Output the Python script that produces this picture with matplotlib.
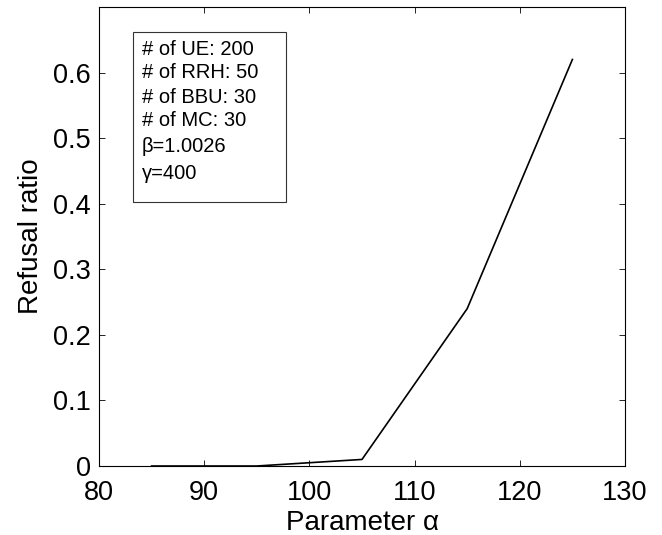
import matplotlib
matplotlib.use("Agg")
import matplotlib.pyplot as plt
from matplotlib.patches import Rectangle

# --- data -------------------------------------------------------------
alpha = [85, 95, 105, 115, 125]
refusal = [0.0, 0.0, 0.01, 0.24, 0.62]

xticks = [80, 90, 100, 110, 120, 130]
yticks = [0, 0.1, 0.2, 0.3, 0.4, 0.5, 0.6]

info_lines = ["# of UE: 200", "# of RRH: 50", "# of BBU: 30",
              "# of MC: 30", "\u03b2=1.0026", "\u03b3=400"]

plt.rcParams["font.family"] = ["Liberation Sans", "DejaVu Sans"]

fig = plt.figure(figsize=(6.62, 5.35), dpi=100)
ax = fig.add_axes([99 / 662, 1 - 466 / 535, 526 / 662, 459 / 535])

ax.plot(alpha, refusal, color="black", linewidth=1.2)

ax.set_xlim(80, 130)
ax.set_ylim(0, 0.7)
ax.set_xticks(xticks)
ax.set_yticks(yticks)
ax.set_yticklabels(["0"] + [f"{v:.1f}" for v in yticks[1:]])
ax.tick_params(direction="in", top=True, right=True, length=4.5,
               width=0.6, labelsize=19.5)
ax.tick_params(axis="x", pad=10)
ax.tick_params(axis="y", pad=6)
for s in ax.spines.values():
    s.set_linewidth(0.8)

ax.set_xlabel("Parameter \u03b1", fontsize=20, labelpad=3)
ax.set_ylabel("Refusal ratio", fontsize=20, labelpad=6)

# info box (axes coordinates)
x0, x1 = (132.5 - 99) / 526, (285.7 - 99) / 526
y0, y1 = (466 - 201.7) / 459, (466 - 32.3) / 459
ax.add_patch(Rectangle((x0, y0), x1 - x0, y1 - y0, transform=ax.transAxes,
                       facecolor="white", edgecolor="#333333", linewidth=0.8))
line_y = [49.3, 72.7, 97.3, 120.7, 146, 173.3]
for txt, py in zip(info_lines, line_y):
    ax.text((142 - 99) / 526, (466 - py) / 459, txt, transform=ax.transAxes,
            fontsize=14.5, va="center", ha="left")

fig.savefig("out.png", dpi=100)
